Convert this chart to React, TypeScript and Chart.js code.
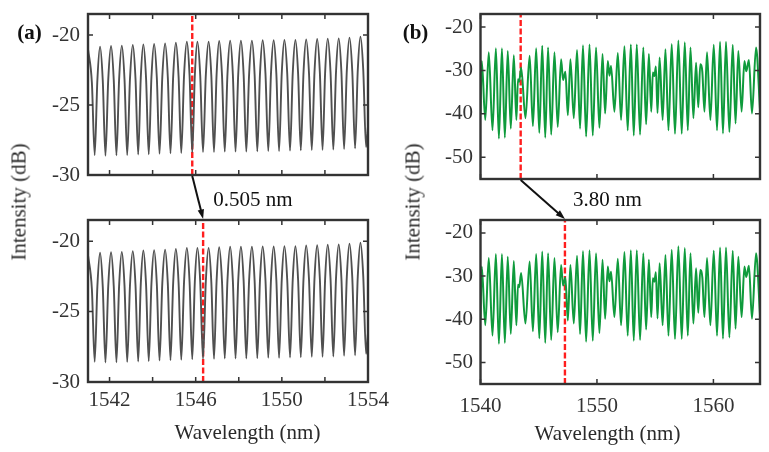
import React, { useEffect, useRef } from 'react';
import { Chart, registerables } from 'chart.js';

Chart.register(...registerables);

const SERIF = '"Liberation Serif", "Times New Roman", serif';
const W = 769;
const H = 452;

// ---- Panel (a): fringe trace: peaks, dips and mid-flank readings
const fringeANm = [
  1541.00, 1541.18, 1541.31,
  1541.435, 1541.56, 1541.685, 1541.81,
  1541.94, 1542.07, 1542.195, 1542.32,
  1542.445, 1542.57, 1542.695, 1542.82,
  1542.95, 1543.08, 1543.205, 1543.33,
  1543.45, 1543.57, 1543.695, 1543.82,
  1543.945, 1544.07, 1544.195, 1544.32,
  1544.45, 1544.58, 1544.705, 1544.83,
  1544.955, 1545.08, 1545.205, 1545.33,
  1545.46, 1545.59, 1545.715, 1545.84,
  1545.96, 1546.08, 1546.21, 1546.34,
  1546.47, 1546.60, 1546.725, 1546.85,
  1546.97, 1547.09, 1547.22, 1547.35,
  1547.475, 1547.60, 1547.725, 1547.85,
  1547.975, 1548.10, 1548.225, 1548.35,
  1548.48, 1548.61, 1548.735, 1548.86,
  1548.985, 1549.11, 1549.24, 1549.37,
  1549.495, 1549.62, 1549.745, 1549.87,
  1549.995, 1550.12, 1550.25, 1550.38,
  1550.505, 1550.63, 1550.755, 1550.88,
  1551.005, 1551.13, 1551.26, 1551.39,
  1551.515, 1551.64, 1551.765, 1551.89,
  1552.01, 1552.13, 1552.26, 1552.39,
  1552.515, 1552.64, 1552.765, 1552.89,
  1553.015, 1553.14, 1553.27, 1553.40,
  1553.525, 1553.65, 1553.78, 1553.91,
  1554.00,
];
const fringeADb = [
  -21.00, -23.40, -28.57,
  -23.23, -20.83, -23.23, -28.62,
  -23.19, -20.79, -23.19, -28.60,
  -23.16, -20.76, -23.16, -28.57,
  -23.11, -20.71, -23.11, -28.54,
  -23.07, -20.67, -23.07, -28.52,
  -23.04, -20.64, -23.04, -28.48,
  -23.00, -20.60, -23.00, -28.45,
  -22.95, -20.55, -22.95, -28.43,
  -22.88, -20.48, -22.88, -28.38,
  -22.88, -20.48, -22.88, -28.36,
  -22.88, -20.48, -22.88, -28.36,
  -22.83, -20.43, -22.83, -28.33,
  -22.80, -20.40, -22.80, -28.33,
  -22.80, -20.40, -22.80, -28.33,
  -22.80, -20.40, -22.80, -28.31,
  -22.78, -20.38, -22.78, -28.29,
  -22.78, -20.38, -22.78, -28.29,
  -22.76, -20.36, -22.76, -28.26,
  -22.76, -20.36, -22.76, -28.24,
  -22.71, -20.31, -22.71, -28.21,
  -22.69, -20.29, -22.69, -28.21,
  -22.66, -20.26, -22.66, -28.19,
  -22.64, -20.24, -22.64, -28.14,
  -22.59, -20.19, -22.59, -28.10,
  -22.52, -20.12, -22.52, -28.00,
  -26.50,
];

// ---- Panel (b): fringe extrema
const fringeBNm = [
  1540.00, 1540.11, 1540.41, 1540.71, 1541.03, 1541.32, 1541.58, 1541.84,
  1542.09, 1542.34, 1542.60, 1542.86, 1543.08, 1543.22, 1543.32, 1543.49,
  1543.86, 1544.22, 1544.50, 1544.78, 1545.05, 1545.30, 1545.56, 1545.80,
  1546.07, 1546.35, 1546.63, 1546.92, 1547.09, 1547.29, 1547.50, 1547.72,
  1548.01, 1548.29, 1548.55, 1548.80, 1549.07, 1549.36, 1549.64, 1549.92,
  1550.21, 1550.48, 1550.70, 1550.93, 1551.07, 1551.21, 1551.50, 1551.79,
  1552.07, 1552.36, 1552.64, 1552.91, 1553.16, 1553.42, 1553.70, 1553.98,
  1554.22, 1554.46, 1554.66, 1554.80, 1554.93, 1555.06, 1555.20, 1555.38,
  1555.64, 1555.88, 1556.14, 1556.42, 1556.70, 1556.99, 1557.28, 1557.54,
  1557.80, 1558.03, 1558.28, 1558.51, 1558.70, 1558.87, 1559.05, 1559.23,
  1559.45, 1559.74, 1560.03, 1560.31, 1560.57, 1560.82, 1561.08, 1561.37,
  1561.66, 1561.90, 1562.14, 1562.42, 1562.66, 1562.82, 1563.05, 1563.31,
  1563.66, 1564.00,
];
const fringeBDb = [
  -40.0, -27.8, -41.4, -25.8, -43.8, -24.9, -45.7, -24.9,
  -45.5, -25.5, -43.4, -26.5, -41.4, -32.0, -32.6, -29.3,
  -41.0, -26.6, -42.8, -24.9, -44.4, -24.3, -45.5, -24.7,
  -44.8, -25.8, -43.0, -27.4, -32.2, -30.3, -40.3, -27.4,
  -41.0, -25.3, -43.4, -24.2, -45.2, -24.0, -45.0, -24.7,
  -43.2, -26.2, -39.9, -27.8, -31.2, -29.0, -39.5, -26.0,
  -41.4, -24.4, -43.8, -24.0, -45.0, -24.0, -44.8, -24.7,
  -42.4, -26.2, -39.5, -30.5, -31.3, -29.1, -39.8, -27.0,
  -41.4, -25.1, -43.8, -23.9, -44.6, -23.1, -44.6, -23.5,
  -43.8, -24.7, -41.0, -28.2, -38.5, -28.6, -30.4, -39.5,
  -25.8, -41.4, -24.1, -43.8, -23.4, -44.5, -23.4, -44.2,
  -24.1, -42.2, -25.5, -39.5, -27.8, -30.2, -27.6, -39.9,
  -24.7, -39.0,
];

// Red dashed markers (nm)
const markerATop = 1545.84;
const markerABottom = 1546.345;
const markerBTop = 1543.45;
const markerBBottom = 1547.25;

// Axis ticks
const xTicksA = [1542, 1544, 1546, 1548, 1550, 1552, 1554];
const xLabelsA = [1542, 1546, 1550, 1554];
const yTicksA = [-30, -25, -20];
const xTicksB = [1540, 1550, 1560];
const xLabelsB = [1540, 1550, 1560];
const yTicksB = [-50, -40, -30, -20];

type Panel = {
  left: number; top: number; w: number; h: number;
  area: { left: number; top: number; right: number; bottom: number };
  nm: number[]; db: number[]; color: string; lw: number; marker: number;
  xMin: number; xMax: number; yMin: number; yMax: number;
  xTicks: number[]; xLabels: number[]; yTicks: number[]; yPad: number; xPad: number;
};

const GRAY = '#505050';
const GREEN = '#0f9b3c';

const PANELS: Panel[] = [
  {
    left: 0, top: 0, w: 385, h: 190, area: { left: 88, top: 14, right: 368, bottom: 175 },
    nm: fringeANm, db: fringeADb, color: GRAY, lw: 1.9, marker: markerATop,
    xMin: 1541, xMax: 1554, yMin: -30, yMax: -18.5,
    xTicks: xTicksA, xLabels: [], yTicks: yTicksA, yPad: 8, xPad: 6,
  },
  {
    left: 0, top: 190, w: 400, h: 262, area: { left: 88, top: 30, right: 368, bottom: 192 },
    nm: fringeANm, db: fringeADb, color: GRAY, lw: 1.9, marker: markerABottom,
    xMin: 1541, xMax: 1554, yMin: -30, yMax: -18.5,
    xTicks: xTicksA, xLabels: xLabelsA, yTicks: yTicksA, yPad: 8, xPad: 6,
  },
  {
    left: 385, top: 0, w: 384, h: 190, area: { left: 95.5, top: 14, right: 375, bottom: 179 },
    nm: fringeBNm, db: fringeBDb, color: GREEN, lw: 2, marker: markerBTop,
    xMin: 1540, xMax: 1564, yMin: -55, yMax: -17,
    xTicks: xTicksB, xLabels: [], yTicks: yTicksB, yPad: 7.5, xPad: 10,
  },
  {
    left: 385, top: 190, w: 384, h: 262, area: { left: 95.5, top: 30, right: 375, bottom: 194 },
    nm: fringeBNm, db: fringeBDb, color: GREEN, lw: 2, marker: markerBBottom,
    xMin: 1540, xMax: 1564, yMin: -55, yMax: -17,
    xTicks: xTicksB, xLabels: xLabelsB, yTicks: yTicksB, yPad: 7.5, xPad: 10,
  },
];

const framePlugin = {
  id: 'frameTicks',
  afterDatasetsDraw(chart: any) {
    const { ctx, chartArea: a, scales } = chart;
    ctx.save();
    ctx.strokeStyle = '#333';
    ctx.lineWidth = 1.5;
    const tl = 5;
    scales.x.ticks.forEach((t: any) => {
      const px = scales.x.getPixelForValue(t.value);
      ctx.beginPath();
      ctx.moveTo(px, a.bottom); ctx.lineTo(px, a.bottom - tl);
      ctx.moveTo(px, a.top); ctx.lineTo(px, a.top + tl);
      ctx.stroke();
    });
    scales.y.ticks.forEach((t: any) => {
      const py = scales.y.getPixelForValue(t.value);
      ctx.beginPath();
      ctx.moveTo(a.left, py); ctx.lineTo(a.left + tl, py);
      ctx.moveTo(a.right, py); ctx.lineTo(a.right - tl, py);
      ctx.stroke();
    });
    ctx.lineWidth = 2.4;
    ctx.strokeRect(a.left, a.top, a.right - a.left, a.bottom - a.top);
    ctx.restore();
  },
};

function makeChart(canvas: HTMLCanvasElement, p: Panel) {
  const data = p.nm.map((x, i) => ({ x, y: p.db[i] }));
  const tickFont = { family: SERIF, size: 21 };
  return new Chart(canvas, {
    type: 'line',
    data: {
      datasets: [
        {
          data,
          borderColor: p.color,
          borderWidth: p.lw,
          pointRadius: 0,
          cubicInterpolationMode: 'monotone',
          fill: false,
        },
        {
          data: [{ x: p.marker, y: p.yMin }, { x: p.marker, y: p.yMax }],
          borderColor: '#ff1e1e',
          borderWidth: 2.4,
          borderDash: [6, 2.5],
          pointRadius: 0,
          fill: false,
        },
      ],
    } as any,
    options: {
      animation: false,
      responsive: false,
      maintainAspectRatio: false,
      events: [],
      layout: { padding: { left: 0, top: p.area.top, right: p.w - p.area.right, bottom: 0 } },
      plugins: { legend: { display: false }, tooltip: { enabled: false }, title: { display: false } },
      scales: {
        x: {
          type: 'linear',
          min: p.xMin,
          max: p.xMax,
          grid: { display: false, drawTicks: false },
          border: { display: false },
          ticks: {
            autoSkip: false,
            maxRotation: 0,
            minRotation: 0,
            padding: p.xPad,
            color: '#333',
            font: tickFont,
            callback: (v: any) => (p.xLabels.includes(Number(v)) ? String(v) : ''),
          },
          afterBuildTicks: (s: any) => {
            s.ticks = p.xTicks.map((v) => ({ value: v }));
          },
          afterFit: (s: any) => {
            s.height = p.h - p.area.bottom;
            s.paddingLeft = 0;
            s.paddingRight = 0;
          },
        },
        y: {
          type: 'linear',
          min: p.yMin,
          max: p.yMax,
          grid: { display: false, drawTicks: false },
          border: { display: false },
          ticks: {
            autoSkip: false,
            padding: p.yPad,
            color: '#333',
            font: tickFont,
            callback: (v: any) => String(v),
          },
          afterBuildTicks: (s: any) => {
            s.ticks = p.yTicks.map((v) => ({ value: v }));
          },
          afterFit: (s: any) => {
            s.width = p.area.left;
            s.paddingTop = 0;
            s.paddingBottom = 0;
          },
        },
      },
    } as any,
    plugins: [framePlugin],
  });
}

function drawArrow(ctx: CanvasRenderingContext2D, x1: number, y1: number, x2: number, y2: number) {
  const ang = Math.atan2(y2 - y1, x2 - x1);
  const head = 10;
  const spread = 0.33;
  ctx.save();
  ctx.strokeStyle = '#111';
  ctx.fillStyle = '#111';
  ctx.lineWidth = 2;
  ctx.beginPath();
  ctx.moveTo(x1, y1);
  ctx.lineTo(x2 - head * 0.8 * Math.cos(ang), y2 - head * 0.8 * Math.sin(ang));
  ctx.stroke();
  ctx.beginPath();
  ctx.moveTo(x2, y2);
  ctx.lineTo(x2 - head * Math.cos(ang - spread), y2 - head * Math.sin(ang - spread));
  ctx.lineTo(x2 - head * Math.cos(ang + spread), y2 - head * Math.sin(ang + spread));
  ctx.closePath();
  ctx.fill();
  ctx.restore();
}

const Txt = ({ x, y, size = 21, bold = false, rotate = false, color = '#2a2a2a', children }: any) => (
  <div
    style={{
      position: 'absolute',
      left: x,
      top: y,
      transform: `translate(-50%, -50%)${rotate ? ' rotate(-90deg)' : ''}`,
      fontFamily: SERIF,
      fontSize: size,
      fontWeight: bold ? 700 : 400,
      lineHeight: 1,
      whiteSpace: 'nowrap',
      color,
    }}
  >
    {children}
  </div>
);

export default function App() {
  const r0 = useRef<HTMLCanvasElement>(null);
  const r1 = useRef<HTMLCanvasElement>(null);
  const r2 = useRef<HTMLCanvasElement>(null);
  const r3 = useRef<HTMLCanvasElement>(null);
  const overlay = useRef<HTMLCanvasElement>(null);
  const refs = [r0, r1, r2, r3];

  useEffect(() => {
    const charts = PANELS.map((p, i) => makeChart(refs[i].current as HTMLCanvasElement, p));
    const ctx = (overlay.current as HTMLCanvasElement).getContext('2d') as CanvasRenderingContext2D;
    ctx.clearRect(0, 0, W, H);
    [[0, 1], [2, 3]].forEach(([t, b]) => {
      const ct: any = charts[t];
      const cb: any = charts[b];
      const pt = PANELS[t];
      const pb = PANELS[b];
      const x1 = pt.left + ct.scales.x.getPixelForValue(pt.marker);
      const y1 = pt.top + ct.chartArea.bottom + 1;
      const x2 = pb.left + cb.scales.x.getPixelForValue(pb.marker);
      const y2 = pb.top + cb.chartArea.top - 1;
      drawArrow(ctx, x1, y1, x2, y2);
    });
    return () => charts.forEach((c) => c.destroy());
  }, []);

  return (
    <div style={{ position: 'absolute', left: 0, top: 0, width: W, height: H, background: '#fff', overflow: 'hidden' }}>
      {PANELS.map((p, i) => (
        <canvas
          key={i}
          ref={refs[i]}
          width={p.w}
          height={p.h}
          style={{ position: 'absolute', left: p.left, top: p.top, width: p.w, height: p.h }}
        />
      ))}
      <canvas
        ref={overlay}
        width={W}
        height={H}
        style={{ position: 'absolute', left: 0, top: 0, width: W, height: H, pointerEvents: 'none' }}
      />
      <Txt x={29.5} y={32} bold color="#111">(a)</Txt>
      <Txt x={415.5} y={32} bold color="#111">(b)</Txt>
      <Txt x={253} y={199} color="#111">0.505 nm</Txt>
      <Txt x={607.5} y={199} color="#111">3.80 nm</Txt>
      <Txt x={247.5} y={432}>Wavelength (nm)</Txt>
      <Txt x={607.5} y={433}>Wavelength (nm)</Txt>
      <Txt x={19} y={201.5} rotate>Intensity (dB)</Txt>
      <Txt x={413.3} y={201.5} rotate>Intensity (dB)</Txt>
    </div>
  );
}
